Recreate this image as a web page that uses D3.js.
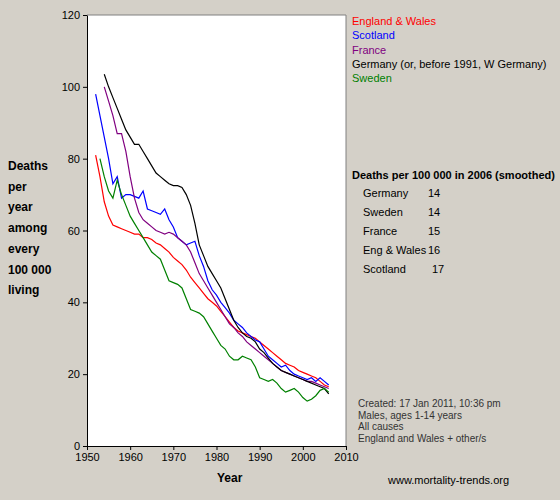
<!DOCTYPE html><html><head><script src="https://cdn.jsdelivr.net/npm/d3@7"></script>
<style>body{margin:0;background:#d4d0c8}text{font-family:Arial,"Liberation Sans",sans-serif}</style></head><body>
<svg id="c" width="560" height="500"></svg>
<script>
const englandStart=1952, englandWales=[81,75,68,64,61.5,61,60.5,60,59.5,59,59,58,58,57.5,56.5,56,55,54,52.5,51.5,50.5,49,47,45.5,44,42.5,41,40,39,37.5,36,34.5,33,32,31.5,31,30.5,30,29,28,27,26,25,24,23,22.5,22,21,20.5,20,19.5,19,18,17,16.5];
const scotlandStart=1952, scotland=[98,92,86,80,73,75,69,70,70,69.5,69,71,66,65.5,65,64.5,66,63,61,58,57,56,56.5,57,53,50,46,43.5,42,40,38.5,37,35,34,33,31.5,30.5,29.5,29,27,25,24,23,22,22.5,21,20,19.5,19,18.5,19,18,19,18,17];
const franceStart=1954, france=[100,96,92,87,87,82,75,69,65,63,62,61,60,59.5,59,59.5,59,58,57,56,54,51,48,46,44,42,40,38,36,34,33,31.5,30.5,29,28,27,26,25,24,23,22,21,20.5,20,19.5,19,18.5,18,18,17.5,17,16.5,16];
const germanyStart=1954, germany=[103.5,100,97,94,91,88,86,84,84,82,80,78,76,75,74,73,72.5,72.5,72,70,67,62,56,53,50,48,46,44,41,38,35,33,31.5,30.5,30,29,27,26,24.5,23,22,21,20.5,20,19.5,19,18.5,18,17.5,17,16.5,16,14.5];
const swedenStart=1953, sweden=[80,75,71,69,74,70,67,64,62,60,58,56,54,53,52,49,46,45.5,45,44,41,38,37.5,37,36,34,32,30,28,27,25,24,24,25,24.5,24,22,19,18.5,18,18.5,17.5,16,15,15.5,16,15,13.5,12.5,13,14,15.5,16,15];
const legendNames=["England & Wales","Scotland","France","Germany (or, before 1991, W Germany)","Sweden"];
const tableNames=["Germany","Sweden","France","Eng & Wales","Scotland"];
const tableValues=[14,14,15,16,17];
const xTicks=[1950,1960,1970,1980,1990,2000,2010];
const yTicks=[0,20,40,60,80,100,120];

const series=[
 {start:englandStart,v:englandWales,c:"#ff0000"},
 {start:scotlandStart,v:scotland,c:"#0000ff"},
 {start:franceStart,v:france,c:"#800080"},
 {start:germanyStart,v:germany,c:"#000000"},
 {start:swedenStart,v:sweden,c:"#008000"}];
const svg=d3.select("#c");
const L=87,R=346,T=15,B=446;
const x=d3.scaleLinear().domain([1950,2010]).range([L,R]);
const y=d3.scaleLinear().domain([0,120]).range([B,T]);
svg.append("rect").attr("x",L).attr("y",T).attr("width",R-L).attr("height",B-T).attr("fill","#fff");
const ax=svg.append("g").attr("transform",`translate(0,${B})`).call(d3.axisBottom(x).tickValues(xTicks).tickFormat(d3.format("d")).tickSize(4));
const ay=svg.append("g").attr("transform",`translate(${L},0)`).call(d3.axisLeft(y).tickValues(yTicks).tickSize(4));
[ax,ay].forEach(a=>{a.selectAll("text").attr("font-size",11).attr("fill","#000");a.select(".domain").attr("stroke","#000");});
svg.append("line").attr("x1",R).attr("x2",R).attr("y1",T).attr("y2",B).attr("stroke","#808080");
svg.append("line").attr("x1",L).attr("x2",R).attr("y1",T).attr("y2",T).attr("stroke","#808080");
const line=d3.line().x(d=>x(d[0])).y(d=>y(d[1]));
series.forEach(s=>svg.append("path").datum(s.v.map((v,i)=>[s.start+i,v])).attr("d",line).attr("fill","none").attr("stroke",s.c).attr("stroke-width",1.2));
svg.append("text").attr("x",217).attr("y",482).attr("font-size",12).attr("font-weight","bold").text("Year");
["Deaths","per","year","among","every","100 000","living"].forEach((t,i)=>svg.append("text").attr("x",8).attr("y",170+i*20.7).attr("font-size",12).attr("font-weight","bold").text(t));
legendNames.forEach((t,i)=>svg.append("text").attr("x",352).attr("y",25+i*14.3).attr("font-size",11).attr("fill",series[i].c).text(t));
svg.append("text").attr("x",352).attr("y",179).attr("font-size",11).attr("font-weight","bold").text("Deaths per 100 000 in 2006 (smoothed)");
tableNames.forEach((t,i)=>{svg.append("text").attr("x",363).attr("y",197+i*19).attr("font-size",11).text(t);
 svg.append("text").attr("x",428+(i==4?4:0)).attr("y",197+i*19).attr("font-size",11).text(tableValues[i]);});
["Created: 17 Jan 2011, 10:36 pm","Males, ages 1-14 years","All causes","England and Wales + other/s"].forEach((t,i)=>svg.append("text").attr("x",358).attr("y",407+i*11.5).attr("font-size",10).attr("fill","#333").text(t));
svg.append("text").attr("x",388).attr("y",484).attr("font-size",11).text("www.mortality-trends.org");
</script></body></html>
